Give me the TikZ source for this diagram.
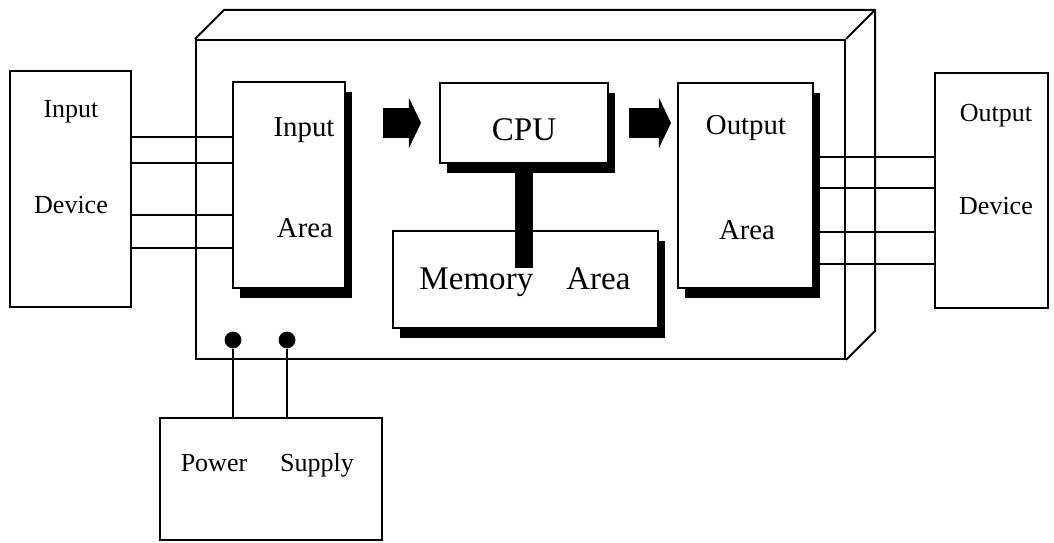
\documentclass[tikz,border=0pt]{standalone}
\usepackage{fontspec}
\setmainfont{Liberation Serif}
\usetikzlibrary{arrows.meta, positioning, calc, shadows}

\begin{document}
\begin{tikzpicture}[
    x=0.025cm, y=-0.025cm,
    box/.style={draw, line width=1.4pt, fill=white, inner sep=0pt},
    shbox/.style={box, drop shadow={shadow xshift=0.18cm, shadow yshift=-0.24cm, fill=black, opacity=1}},
    board/.style={draw, line width=1.4pt, inner sep=0pt},
    dot/.style={circle, fill=black, inner sep=0pt, minimum size=0.42cm},
    wire/.style={line width=1.4pt},
    fatarrow/.style={line width=0.75cm, -{Triangle[length=0.3cm, width=1.25cm, line width=0pt]}},
    lbl/.style={font=\fontsize{18.5}{22}\selectfont},
    lblm/.style={font=\fontsize{20.5}{24}\selectfont},
    lbll/.style={font=\fontsize{23.5}{28}\selectfont},
]
\useasboundingbox (0,0) rectangle (1054,543);

% === BOARD (box seen in 3D) ===
\node[board, minimum width=16.225cm, minimum height=7.975cm] (board) at (520.5,199.5) {};
\draw[line width=1.4pt] (board.north west) -- ++(29,-29) -- ($(board.north east)+(29,-29)$)
    -- ($(board.south east)+(29,-29)$) -- (board.south east);
\draw[line width=1.4pt] (board.north east) -- ++(29,-29);

% === DEVICES ===
\node[box, minimum width=3.025cm, minimum height=5.9cm] (indev) at (70.5,189) {};
\node[box, minimum width=2.825cm, minimum height=5.875cm] (outdev) at (991.5,190.5) {};
\node[box, minimum width=5.55cm, minimum height=3.05cm] (power) at (271,479) {};

% === AREAS on the board ===
\node[shbox, minimum width=2.8cm, minimum height=5.15cm] (inarea) at (289,185) {};
\node[shbox, minimum width=4.2cm, minimum height=2.0cm] (cpu) at (524,123) {};
\node[shbox, minimum width=6.625cm, minimum height=2.425cm] (mem) at (525.5,279.5) {};
\node[shbox, minimum width=3.375cm, minimum height=5.125cm] (outarea) at (745.5,185.5) {};

% === LABELS ===
\node[lbl] (indev1) at (71,112) {Input};
\node[lbl] (indev2) at (71,205) {Device};
\node[lbl] (outdev1) at (996,116) {Output};
\node[lbl] (outdev2) at (996,206) {Device};
\node[lbl] (pow1) at (214,463) {Power};
\node[lbl] (pow2) at (317,465) {Supply};
\node[lblm] (inarea1) at (304,130) {Input};
\node[lblm] (inarea2) at (305,228) {Area};
\node[lblm] (outarea1) at (746,128) {Output};
\node[lblm] (outarea2) at (747,230) {Area};
\node[lbll] (cputxt) at (524,130) {CPU};

% === BUS from CPU to memory ===
\coordinate (membar) at (524,268);
\draw[line width=0.45cm] (cpu.south) -- (membar);
\node[lbll] (memtxt) at (525,282) {Memory\quad Area};

% === WIRES ===
\foreach \y in {137,163,215,248}{
    \draw[wire] (indev.east |- 0,\y) -- (inarea.west |- 0,\y);
}
\foreach \y in {157,188,232,264}{
    \draw[wire] (outarea.east |- 0,\y) -- (outdev.west |- 0,\y);
}

% === FAT ARROWS ===
\draw[fatarrow, shorten <=0.925cm, shorten >=0.45cm] (inarea.east |- cpu.west) -- (cpu.west);
\draw[fatarrow, shorten <=0.5cm, shorten >=0.15cm] (cpu.east) -- (outarea.west |- cpu.east);

% === POWER PLUGS ===
\node[dot] (plug1) at (233,340) {};
\node[dot] (plug2) at (287,340) {};
\draw[wire] (plug1) -- (plug1 |- power.north);
\draw[wire] (plug2) -- (plug2 |- power.north);

\end{tikzpicture}
\end{document}
